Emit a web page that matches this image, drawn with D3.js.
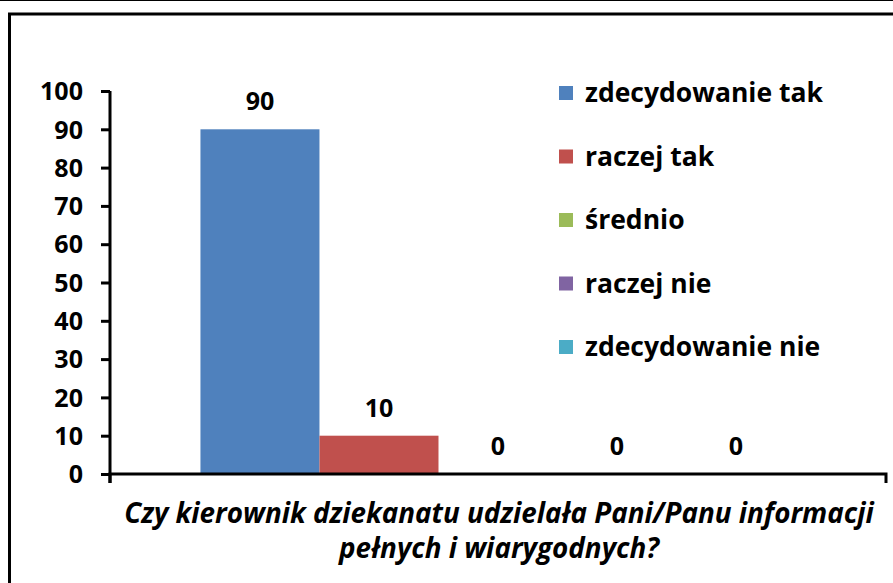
<!DOCTYPE html>
<html><head><meta charset="utf-8">
<script src="https://cdn.jsdelivr.net/npm/d3@7"></script>
<style>html,body{margin:0;padding:0;background:#fff;}svg{display:block;}</style>
</head><body>
<svg id="c" width="893" height="583"></svg>
<script>
const categories = ["Czy kierownik dziekanatu udzielała Pani/Panu informacji pełnych i wiarygodnych?"];
const titleLines = ["Czy kierownik dziekanatu udzielała Pani/Panu informacji", "pełnych i wiarygodnych?"];
const seriesNames = ["zdecydowanie tak", "raczej tak", "średnio", "raczej nie", "zdecydowanie nie"];
const seriesValues = [90, 10, 0, 0, 0];
const seriesColors = ["#4f81bd", "#c0504d", "#9bbb59", "#8064a2", "#4bacc6"];
const yTicks = [0, 10, 20, 30, 40, 50, 60, 70, 80, 90, 100];

const FONT = "'Open Sans', Lato, sans-serif";
const svg = d3.select("#c");

// fit a font size so that text reaches a target width
function fitSize(txt, target, italic) {
  const t = svg.append("text").style("font-family", FONT).style("font-weight","bold")
    .style("font-style", italic ? "italic" : "normal").style("font-size","20px").text(txt);
  const w = t.node().getComputedTextLength();
  t.remove();
  return 20 * target / w;
}
const legendSize = fitSize(seriesNames[0], 238, false);
const titleSize = fitSize(titleLines[0], 750, true);
const tickSize = fitSize("100", 43, false);

// frame
svg.append("line").attr("x1",0).attr("x2",893).attr("y1",0.5).attr("y2",0.5).attr("stroke","#000").attr("stroke-width",1);
svg.append("line").attr("x1",8).attr("x2",893).attr("y1",14).attr("y2",14).attr("stroke","#000").attr("stroke-width",3);
svg.append("line").attr("x1",9.5).attr("x2",9.5).attr("y1",13).attr("y2",583).attr("stroke","#000").attr("stroke-width",3);

const x0 = 110, x1 = 886, yBase = 474, yTop = 91;
const y = d3.scaleLinear().domain([0,100]).range([yBase, yTop]);
const xCat = d3.scaleBand().domain(categories).range([x0, x1]).paddingInner(0).paddingOuter(0.152);
const xSer = d3.scaleBand().domain(seriesNames).range([0, xCat.bandwidth()]).padding(0);

// bars
const g = svg.append("g");
g.selectAll("rect").data(seriesNames).join("rect")
  .attr("x", (d) => xCat(categories[0]) + xSer(d))
  .attr("width", xSer.bandwidth())
  .attr("y", (d,i) => y(seriesValues[i]))
  .attr("height", (d,i) => yBase - y(seriesValues[i]))
  .attr("fill", (d,i) => seriesColors[i]);

g.selectAll("text.val").data(seriesNames).join("text").attr("class","val")
  .attr("x", (d) => xCat(categories[0]) + xSer(d) + xSer.bandwidth()/2)
  .attr("y", (d,i) => y(seriesValues[i]) - 19)
  .attr("text-anchor","middle")
  .style("font-family", FONT).style("font-weight","bold").style("font-size", tickSize + "px")
  .text((d,i) => seriesValues[i]);

// y axis
const yAxis = d3.axisLeft(y).tickValues(yTicks).tickSize(9).tickPadding(18).tickSizeOuter(0);
const ya = svg.append("g").attr("transform", `translate(${x0},0)`).call(yAxis);
ya.select(".domain").attr("stroke","#000").attr("stroke-width",3).attr("d", `M0,${yTop}V${yBase+9}`);
ya.selectAll(".tick line").attr("stroke","#000").attr("stroke-width",3);
ya.selectAll(".tick text").attr("fill","#000")
  .style("font-family", FONT).style("font-weight","bold").style("font-size", tickSize + "px").attr("dy","0.35em");

// x axis
const xAxis = d3.axisBottom(xCat).tickValues([]).tickSize(0).tickSizeOuter(9);
const xa = svg.append("g").attr("transform", `translate(0,${yBase})`).call(xAxis);
xa.select(".domain").attr("stroke","#000").attr("stroke-width",3).attr("fill","none")
  .attr("d", `M${x0},9V0H${x1}V9`);

// axis title
svg.append("g").selectAll("text").data(titleLines).join("text")
  .attr("x", 499).attr("y", (d,i) => 523 + i*35)
  .attr("text-anchor","middle")
  .style("font-family", FONT).style("font-weight","bold").style("font-style","italic").style("font-size", titleSize + "px")
  .text(d => d);

// legend
const lg = svg.append("g");
const items = lg.selectAll("g").data(seriesNames).join("g")
  .attr("transform", (d,i) => `translate(559, ${93 + i*63.5})`);
items.append("rect").attr("x",0).attr("y",-7).attr("width",14).attr("height",14).attr("fill",(d,i)=>seriesColors[i]);
items.append("text").attr("x",26).attr("y",0).attr("dy","0.35em")
  .style("font-family", FONT).style("font-weight","bold").style("font-size", legendSize + "px")
  .text(d => d);
</script>
</body></html>
